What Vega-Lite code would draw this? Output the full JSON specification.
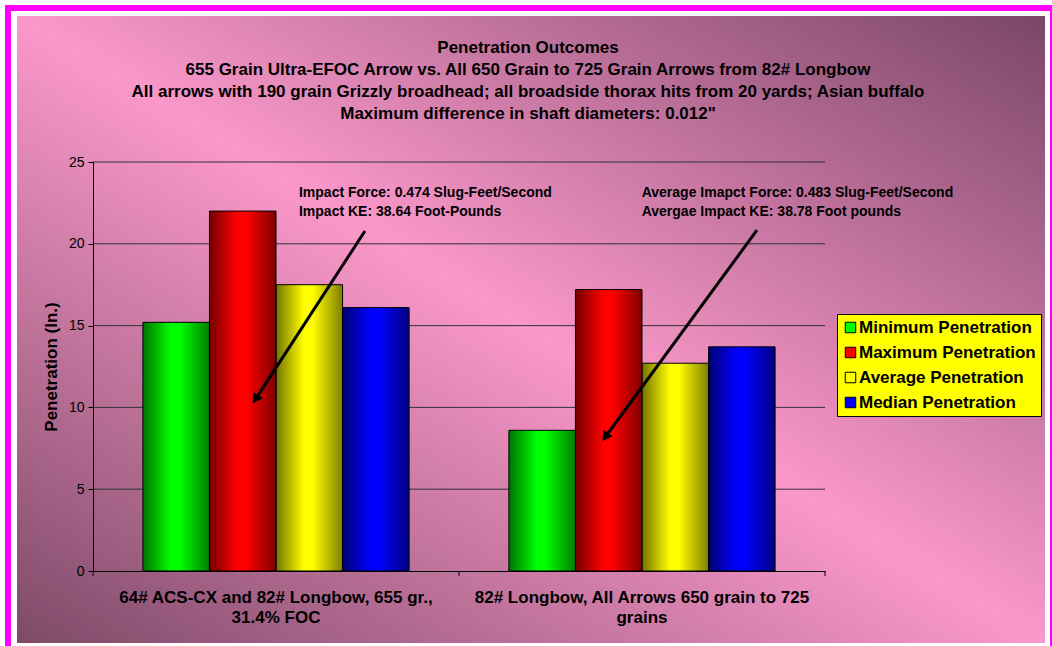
{
  "$schema": "https://vega.github.io/schema/vega-lite/v6.json",
  "width": 732,
  "height": 409,
  "autosize": {"type": "none"},
  "padding": {"left": 93, "top": 162, "right": 227, "bottom": 75},
  "background": "#FFFFFF",
  "config": {"font": "Liberation Sans", "view": {"stroke": null}},
  "title": {
    "text": [
      "Penetration Outcomes",
      "655 Grain Ultra-EFOC Arrow vs. All 650 Grain to 725 Grain Arrows from 82# Longbow",
      "All arrows with 190 grain Grizzly broadhead; all broadside thorax hits from 20 yards; Asian buffalo",
      "Maximum difference in shaft diameters: 0.012\""
    ],
    "anchor": "middle",
    "dx": 69,
    "fontSize": 17,
    "fontWeight": "bold",
    "font": "Liberation Sans",
    "color": "#000000",
    "lineHeight": 22,
    "offset": -135,
    "baseline": "bottom"
  },
  "datasets": {
    "bars": [
      {"group": "64# ACS-CX and 82# Longbow, 655 gr., 31.4% FOC", "series": "Minimum Penetration", "value": 15.2},
      {"group": "64# ACS-CX and 82# Longbow, 655 gr., 31.4% FOC", "series": "Maximum Penetration", "value": 22.0},
      {"group": "64# ACS-CX and 82# Longbow, 655 gr., 31.4% FOC", "series": "Average Penetration", "value": 17.5},
      {"group": "64# ACS-CX and 82# Longbow, 655 gr., 31.4% FOC", "series": "Median Penetration", "value": 16.1},
      {"group": "82# Longbow, All Arrows 650 grain to 725 grains", "series": "Minimum Penetration", "value": 8.6},
      {"group": "82# Longbow, All Arrows 650 grain to 725 grains", "series": "Maximum Penetration", "value": 17.2},
      {"group": "82# Longbow, All Arrows 650 grain to 725 grains", "series": "Average Penetration", "value": 12.7},
      {"group": "82# Longbow, All Arrows 650 grain to 725 grains", "series": "Median Penetration", "value": 13.7}
    ],
    "grid": [{"tick": 5}, {"tick": 10}, {"tick": 15}, {"tick": 20}, {"tick": 25}],
    "bounds": [{"b": 0}, {"b": 1}, {"b": 2}],
    "arrows": [
      {"arrow": "a1", "x": 0.743, "y": 20.78, "x2": 0.4437, "y2": 10.49},
      {"arrow": "a2", "x": 1.814, "y": 20.83, "x2": 1.3997, "y2": 8.19}
    ],
    "notes": [
      {"x": 0.5628, "y": 23.12, "text": "Impact Force: 0.474 Slug-Feet/Second"},
      {"x": 0.5628, "y": 21.94, "text": "Impact KE: 38.64 Foot-Pounds"},
      {"x": 1.4992, "y": 23.12, "text": "Average Imapct Force: 0.483 Slug-Feet/Second"},
      {"x": 1.4992, "y": 21.94, "text": "Avergae Impact KE: 38.78 Foot pounds"}
    ]
  },
  "layer": [
    {"data": {"values": [{}]}, "mark": {"type": "rect", "x": -88, "x2": 967, "y": -157, "y2": 498, "fill": "#FF00FF"}, "encoding": {}},
    {"data": {"values": [{}]}, "mark": {"type": "rect", "x": -82, "x2": 957, "y": -151, "y2": 489, "fill": "#FFFFFF"}, "encoding": {}},
    {
      "data": {"values": [{}]},
      "mark": {
        "type": "rect", "x": -76, "x2": 952, "y": -146, "y2": 481,
        "fill": {
          "gradient": "linear", "x1": 0, "y1": 1, "x2": 1, "y2": 0,
          "stops": [
            {"offset": 0, "color": "#7E4A68"},
            {"offset": 0.5, "color": "#FA98CA"},
            {"offset": 1, "color": "#7A4666"}
          ]
        }
      },
      "encoding": {}
    },
    {
      "data": {"name": "grid"},
      "mark": {"type": "rule", "color": "#333333", "strokeWidth": 1},
      "encoding": {
        "y": {
          "field": "tick", "type": "quantitative", "scale": {"domain": [0, 25]},
          "axis": {
            "title": "Penetration (In.)",
            "titleFontSize": 17,
            "titleFontWeight": "bold",
            "titleFont": "Liberation Sans",
            "titleColor": "#000000",
            "titlePadding": 8,
            "values": [0, 5, 10, 15, 20, 25],
            "grid": false,
            "tickSize": 5,
            "tickColor": "#000000",
            "domainColor": "#000000",
            "labelFontSize": 14,
            "labelFont": "Liberation Sans",
            "labelColor": "#000000",
            "labelPadding": 4,
            "zindex": 1
          }
        }
      }
    },
    {
      "data": {"name": "bars"},
      "encoding": {
        "x": {
          "field": "group", "type": "nominal", "sort": null,
          "scale": {"paddingInner": 0.2727, "paddingOuter": 0.1364},
          "axis": {
            "title": null,
            "labelExpr": "datum.label == '64# ACS-CX and 82# Longbow, 655 gr., 31.4% FOC' ? ['64# ACS-CX and 82# Longbow, 655 gr.,', '31.4% FOC'] : ['82# Longbow, All Arrows 650 grain to 725', 'grains']",
            "labelFontSize": 17,
            "labelFontWeight": "bold",
            "labelFont": "Liberation Sans",
            "labelColor": "#000000",
            "labelLineHeight": 20,
            "labelLimit": 600,
            "labelPadding": 18,
            "labelAngle": 0,
            "labelOverlap": false,
            "ticks": false,
            "domainColor": "#000000",
            "zindex": 1
          }
        },
        "xOffset": {"field": "series", "type": "nominal", "sort": null, "scale": {"paddingInner": 0, "paddingOuter": 0}},
        "y": {"field": "value", "type": "quantitative", "scale": {"domain": [0, 25]}, "title": "Penetration (In.)"}
      },
      "layer": [
        {
          "mark": {"type": "bar", "strokeWidth": 0},
          "encoding": {
            "color": {
              "field": "series", "type": "nominal",
              "scale": {
                "domain": ["Minimum Penetration", "Maximum Penetration", "Average Penetration", "Median Penetration"],
                "range": ["#00FF00", "#FF0000", "#FFFF00", "#0000FF"]
              },
              "legend": {
                "title": null,
                "orient": "none",
                "legendX": 744,
                "legendY": 152,
                "fillColor": "#FFFF00",
                "strokeColor": "#000000",
                "padding": 5,
                "symbolType": "square",
                "symbolSize": 110,
                "symbolStrokeColor": "#000000",
                "symbolStrokeWidth": 1,
                "symbolOpacity": 1,
                "labelFontSize": 17,
                "labelFontWeight": "bold",
                "labelFont": "Liberation Sans",
                "labelColor": "#000000",
                "rowPadding": 7,
                "labelOffset": 0,
                "labelLimit": 300
              }
            }
          }
        },
        {
          "mark": {
            "type": "bar",
            "stroke": "#000000",
            "strokeWidth": 1,
            "fill": {
              "gradient": "linear", "x1": 0, "y1": 0, "x2": 1, "y2": 0,
              "stops": [
                {"offset": 0, "color": "rgba(0,0,0,0.55)"},
                {"offset": 0.42, "color": "rgba(0,0,0,0)"},
                {"offset": 0.55, "color": "rgba(0,0,0,0)"},
                {"offset": 1, "color": "rgba(0,0,0,0.5)"}
              ]
            }
          }
        }
      ]
    },
    {
      "layer": [
        {
          "data": {"name": "bounds"},
          "mark": {"type": "rule", "color": "#000000", "strokeWidth": 1},
          "encoding": {
            "x": {"field": "b", "type": "quantitative", "scale": {"domain": [0, 2], "nice": false}, "axis": null},
            "y": {"datum": 0, "type": "quantitative", "scale": {"domain": [0, 25]}, "title": "Penetration (In.)"},
            "y2": {"datum": -0.31}
          }
        },
        {
          "data": {"name": "arrows"},
          "mark": {"type": "rule", "color": "#000000", "strokeWidth": 3},
          "encoding": {
            "x": {"field": "x", "type": "quantitative", "scale": {"domain": [0, 2], "nice": false}, "axis": null},
            "y": {"field": "y", "type": "quantitative", "scale": {"domain": [0, 25]}, "title": "Penetration (In.)"},
            "x2": {"field": "x2"},
            "y2": {"field": "y2"}
          }
        },
        {
          "data": {"name": "arrows"},
          "transform": [{"filter": "datum.arrow == 'a1'"}],
          "mark": {"type": "point", "shape": "triangle-up", "filled": true, "color": "#000000", "size": 130, "angle": 213, "opacity": 1},
          "encoding": {
            "x": {"field": "x2", "type": "quantitative", "scale": {"domain": [0, 2], "nice": false}, "axis": null},
            "y": {"field": "y2", "type": "quantitative", "scale": {"domain": [0, 25]}, "title": "Penetration (In.)"}
          }
        },
        {
          "data": {"name": "arrows"},
          "transform": [{"filter": "datum.arrow == 'a2'"}],
          "mark": {"type": "point", "shape": "triangle-up", "filled": true, "color": "#000000", "size": 130, "angle": 216, "opacity": 1},
          "encoding": {
            "x": {"field": "x2", "type": "quantitative", "scale": {"domain": [0, 2], "nice": false}, "axis": null},
            "y": {"field": "y2", "type": "quantitative", "scale": {"domain": [0, 25]}, "title": "Penetration (In.)"}
          }
        },
        {
          "data": {"name": "notes"},
          "mark": {"type": "text", "align": "left", "baseline": "middle", "fontSize": 14, "fontWeight": "bold", "font": "Liberation Sans", "color": "#000000"},
          "encoding": {
            "x": {"field": "x", "type": "quantitative", "scale": {"domain": [0, 2], "nice": false}, "axis": null},
            "y": {"field": "y", "type": "quantitative", "scale": {"domain": [0, 25]}, "title": "Penetration (In.)"},
            "text": {"field": "text"}
          }
        }
      ]
    }
  ],
  "resolve": {"scale": {"x": "independent"}}
}
